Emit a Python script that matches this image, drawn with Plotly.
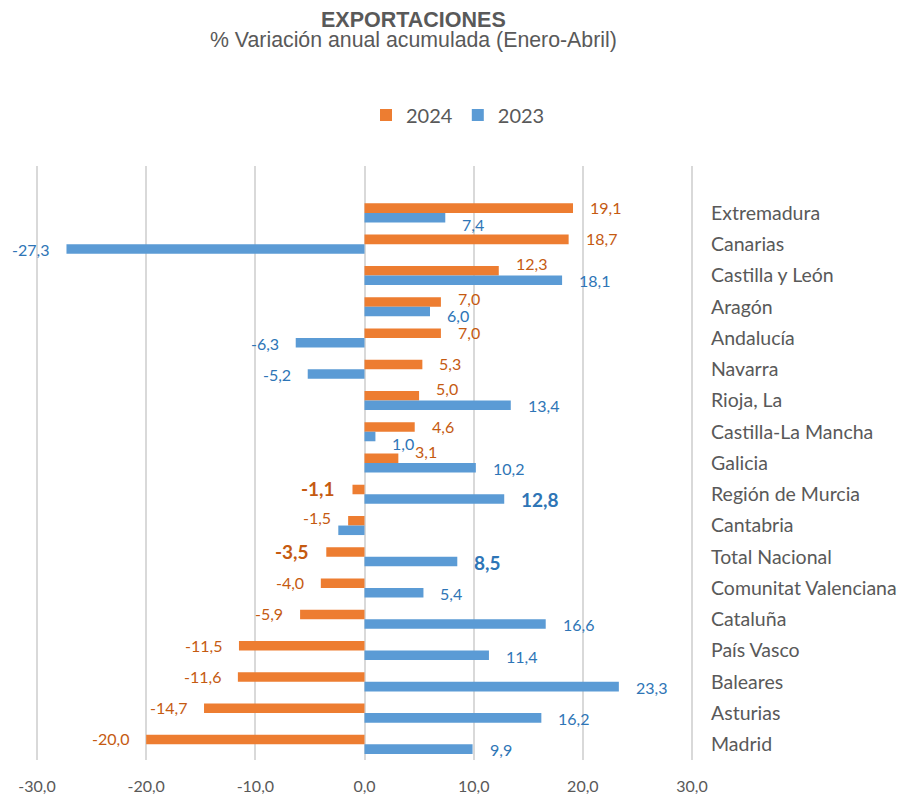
import plotly.graph_objects as go

categories = ["Extremadura", "Canarias", "Castilla y León", "Aragón", "Andalucía",
              "Navarra", "Rioja, La", "Castilla-La Mancha", "Galicia", "Región de Murcia",
              "Cantabria", "Total Nacional", "Comunitat Valenciana", "Cataluña",
              "País Vasco", "Baleares", "Asturias", "Madrid"]
values_2024 = [19.1, 18.7, 12.3, 7.0, 7.0, 5.3, 5.0, 4.6, 3.1, -1.1,
               -1.5, -3.5, -4.0, -5.9, -11.5, -11.6, -14.7, -20.0]
values_2023 = [7.4, -27.3, 18.1, 6.0, -6.3, -5.2, 13.4, 1.0, 10.2, 12.8,
               -2.4, 8.5, 5.4, 16.6, 11.4, 23.3, 16.2, 9.9]
# Cantabria 2023 label is not shown in the original (bar only)
show_label_2023 = [True] * 10 + [False] + [True] * 7
highlighted = ["Región de Murcia", "Total Nacional"]
x_tickvals = [-30, -20, -10, 0, 10, 20, 30]
x_ticktext = ["-30,0", "-20,0", "-10,0", "0,0", "10,0", "20,0", "30,0"]

ORANGE = "#ED7D31"
BLUE = "#5B9BD5"
ORANGE_TXT = "#C55A11"
BLUE_TXT = "#2E75B6"
GREY = "#595959"
FONT = "Lato"

# the page body adds an 8px margin around the figure
PAGE_OFFSET = 8
WIN_W, WIN_H = 905, 794
FIG_W, FIG_H = WIN_W - PAGE_OFFSET, WIN_H - PAGE_OFFSET
# -30 / +30 grid lines sit at these window pixels; the plot area is a bit wider
# so that plotly still draws the outer grid lines
GRID_LEFT, GRID_RIGHT = 37, 692
EDGE = 3
UNIT = (GRID_RIGHT - GRID_LEFT) / 60.0
PLOT_LEFT, PLOT_RIGHT = GRID_LEFT - EDGE, GRID_RIGHT + EDGE
PLOT_TOP, PLOT_BOTTOM = 166, 760
PLOT_W = PLOT_RIGHT - PLOT_LEFT
PLOT_H = PLOT_BOTTOM - PLOT_TOP
X_RANGE = [-30 - EDGE / UNIT, 30 + EDGE / UNIT]


def fmt(v):
    return f"{v:.1f}".replace(".", ",")


def px(win_x):
    return (win_x - PLOT_LEFT) / PLOT_W


def py(win_y):
    return 1 + (PLOT_TOP - win_y) / PLOT_H


fig = go.Figure()
fig.add_trace(go.Bar(name="2024", y=categories, x=values_2024, orientation="h",
                     marker=dict(color=ORANGE, line=dict(width=0))))
fig.add_trace(go.Bar(name="2023", y=categories, x=values_2023, orientation="h",
                     marker=dict(color=BLUE, line=dict(width=0))))

annotations = []
series_info = [
    (values_2024, values_2023, ORANGE_TXT, 5.5, [True] * len(categories)),
    (values_2023, values_2024, BLUE_TXT, -5.5, show_label_2023),
]
for own, other, color, base_shift, shows in series_info:
    direction = 1 if base_shift > 0 else -1
    for cat, v, o, show in zip(categories, own, other, shows):
        if not show:
            continue
        bold = cat in highlighted
        txt = f"<b>{fmt(v)}</b>" if bold else fmt(v)
        ysh = base_shift
        # like Excel: move a label away from the neighbouring bar / label
        if v * o > 0:
            if abs(o) - (abs(v) + 1.5) > 0:
                ysh += 6 * direction
            elif abs(abs(o) - abs(v)) < 2.5:
                ysh += 3 * direction
        annotations.append(dict(
            x=v, y=cat, xref="x", yref="y", text=txt, showarrow=False,
            xanchor="left" if v >= 0 else "right",
            xshift=15 if v >= 0 else -15, yshift=ysh,
            font=dict(family=FONT, size=19 if bold else 16, color=color)))

annotations.append(dict(x=px(413.5), y=py(20), xref="paper", yref="paper",
                        text="<b>EXPORTACIONES</b>", showarrow=False,
                        xanchor="center", yanchor="middle",
                        font=dict(family="Liberation Sans", size=21.5, color=GREY)))
annotations.append(dict(x=px(413.5), y=py(40), xref="paper", yref="paper",
                        text="% Variación anual acumulada (Enero-Abril)", showarrow=False,
                        xanchor="center", yanchor="middle",
                        font=dict(family="Liberation Sans", size=21.3, color=GREY)))

fig.update_layout(
    width=FIG_W, height=FIG_H,
    margin=dict(l=PLOT_LEFT - PAGE_OFFSET, r=FIG_W - (PLOT_RIGHT - PAGE_OFFSET),
                t=PLOT_TOP - PAGE_OFFSET, b=FIG_H - (PLOT_BOTTOM - PAGE_OFFSET),
                autoexpand=False),
    paper_bgcolor="white", plot_bgcolor="white",
    barmode="group", bargap=0.39, bargroupgap=0,
    showlegend=True,
    legend=dict(orientation="h", x=px(458), y=py(115),
                xanchor="center", yanchor="middle", traceorder="normal",
                font=dict(family=FONT, size=20, color=GREY)),
    annotations=annotations,
    xaxis=dict(range=X_RANGE, tickvals=x_tickvals, ticktext=x_ticktext,
               showgrid=True, gridcolor="#D9D9D9", gridwidth=1.5,
               zeroline=True, zerolinecolor="#D9D9D9", zerolinewidth=1.5,
               showline=False, ticks="", ticklabelstandoff=15, automargin=False,
               tickfont=dict(family=FONT, size=16, color=GREY), fixedrange=True),
    yaxis=dict(type="category", categoryorder="array", categoryarray=categories,
               range=[len(categories) - 0.5, -1.5], side="right",
               showgrid=False, zeroline=False, showline=False, ticks="",
               ticklabelstandoff=18 - EDGE, automargin=False,
               tickfont=dict(family=FONT, size=19.5, color=GREY)),
)

fig.write_html("out.html")
